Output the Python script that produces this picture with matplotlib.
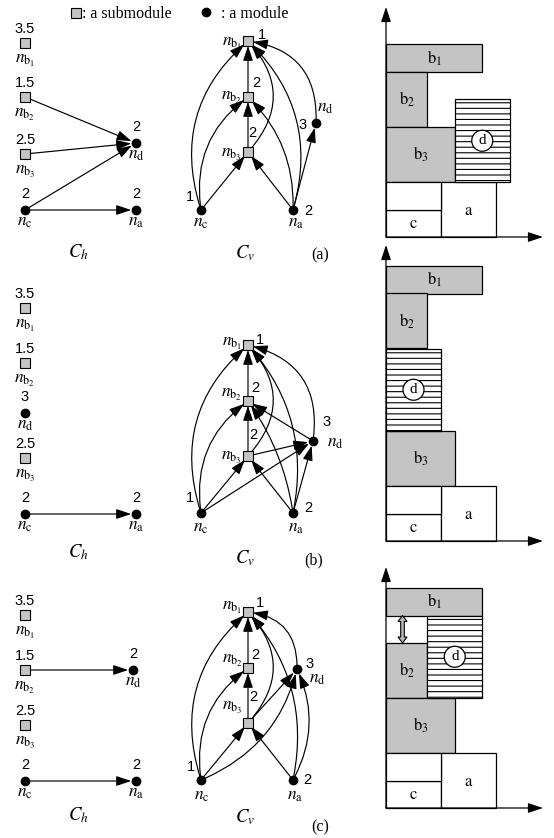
import matplotlib
matplotlib.use('Agg')
import matplotlib.pyplot as plt
from matplotlib.patches import FancyArrowPatch, Rectangle, Circle, Polygon, ArrowStyle

plt.rcParams['mathtext.fontset'] = 'stix'
plt.rcParams['hatch.linewidth'] = 0.8

SERIF = 'Liberation Serif'
SANS = 'Liberation Sans'

# ---------------- data ----------------
modules = ['b1', 'b2', 'b3', 'c', 'a', 'd']
is_submodule = [True, True, True, False, False, False]
h_weights = [3.5, 1.5, 2.5, 2, 2, 2]          # widths (C_h weights)
h_weights_b = [3.5, 1.5, 2.5, 2, 2, 3]        # C_h labels shown in panel (b)
v_weights = [1, 2, 2, 1, 2, 3]                # heights (C_v weights)

ch_edges = {
    'a': [('b2', 'd'), ('b3', 'd'), ('c', 'd'), ('c', 'a')],
    'b': [('c', 'a')],
    'c': [('b2', 'd'), ('c', 'a')],
}
cv_edges = {
    'a': [('c', 'b1'), ('c', 'b2'), ('c', 'b3'), ('a', 'b3'), ('a', 'b2'), ('a', 'b1'),
          ('a', 'd'), ('d', 'b1'), ('b2', 'b1'), ('b3', 'b2'), ('b3', 'b1')],
    'b': [('c', 'b1'), ('c', 'b2'), ('c', 'b3'), ('c', 'd'), ('a', 'b3'), ('a', 'b2'),
          ('a', 'b1'), ('a', 'd'), ('d', 'b2'), ('d', 'b1'), ('b3', 'd'), ('b2', 'b1'),
          ('b3', 'b2'), ('b3', 'b1')],
    'c': [('c', 'b1'), ('c', 'b2'), ('c', 'b3'), ('c', 'd'), ('a', 'b3'), ('a', 'b1'),
          ('a', 'd'), ('b3', 'd'), ('b3', 'b1'), ('d', 'b1'), ('b2', 'b1'), ('b3', 'b2')],
}

# floorplan placement (in weight units), order as `modules`
fp_x = {'a': [0, 0, 0, 0, 2, 2.5], 'b': [0, 0, 0, 0, 2, 0], 'c': [0, 0, 0, 0, 2, 1.5]}
fp_y = {'a': [6, 4, 2, 0, 0, 2], 'b': [9, 7, 2, 0, 0, 4], 'c': [7, 4, 2, 0, 0, 4]}

panels = ['a', 'b', 'c']

# ---------------- layout (pixels) ----------------
ch_pos = {
    'a': {'b1': (25, 43), 'b2': (25, 97), 'b3': (25, 154), 'c': (25, 210), 'd': (136, 143), 'a': (136, 210)},
    'b': {'b1': (25, 308), 'b2': (25, 363), 'd': (25, 413), 'b3': (25, 458), 'c': (25, 514), 'a': (136, 514)},
    'c': {'b1': (25, 615), 'b2': (25, 670), 'd': (133, 670), 'b3': (25, 725), 'c': (25, 781), 'a': (136, 781)},
}
cv_pos = {
    'a': {'b1': (248, 41), 'b2': (248, 97), 'b3': (248, 152), 'c': (201, 210), 'a': (293, 210), 'd': (316, 123)},
    'b': {'b1': (248, 345), 'b2': (248, 401), 'b3': (248, 456), 'c': (201, 513), 'a': (293, 513), 'd': (313, 441)},
    'c': {'b1': (248, 612), 'b2': (248, 668), 'b3': (248, 723), 'c': (201, 780), 'a': (293, 780), 'd': (297, 669)},
}
cv_rad = {
    'a': {('c', 'b1'): -0.33, ('c', 'b2'): -0.3, ('a', 'b2'): 0.22, ('a', 'b1'): 0.3,
          ('d', 'b1'): 0.45, ('b3', 'b1'): 0.45},
    'b': {('c', 'b1'): -0.33, ('c', 'b2'): -0.3, ('a', 'b2'): 0.12, ('a', 'b1'): 0.25,
          ('d', 'b1'): 0.45, ('b3', 'b1'): 0.45},
    'c': {('c', 'b1'): -0.33, ('c', 'b2'): -0.3, ('c', 'd'): 0.25, ('a', 'b1'): 0.25,
          ('a', 'd'): 0.25, ('d', 'b1'): 0.45, ('b3', 'b1'): 0.45},
}
# C_v weight-number positions (offset from node)
cv_num_off = {
    'a': {'b1': (14, -6), 'b2': (8, -14), 'b3': (4, -19), 'c': (-11, -13), 'a': (15, 1), 'd': (-13, 2)},
    'b': {'b1': (12, -5), 'b2': (7, -13), 'b3': (5, -21), 'c': (-11, -15), 'a': (15, -5), 'd': (14, -19)},
    'c': {'b1': (12, -9), 'b2': (7, -13), 'b3': (5, -26), 'c': (-10, -13), 'a': (14, 0), 'd': (13, -5)},
}
# C_v node-name positions: (x, baseline, ha)
cv_lab = {
    'a': {'b1': (242, 46, 'right'), 'b2': (242, 100, 'right'), 'b3': (242, 157, 'right'),
          'c': (201, 227, 'center'), 'a': (296, 227, 'center'), 'd': (325, 112, 'center')},
    'b': {'b1': (242, 346, 'right'), 'b2': (242, 397, 'right'), 'b3': (242, 460, 'right'),
          'c': (201, 532, 'center'), 'a': (296, 532, 'center'), 'd': (335, 447, 'center')},
    'c': {'b1': (242, 610, 'right'), 'b2': (243, 663, 'right'), 'b3': (243, 710, 'right'),
          'c': (202, 800, 'center'), 'a': (295, 800, 'center'), 'd': (317, 683, 'center')},
}
ch_title_y = {'a': 252, 'b': 552, 'c': 815}
cv_title_y = {'a': 253, 'b': 558, 'c': 817}
tag_pos = {'a': (320, 255), 'b': (314, 560), 'c': (320, 827)}

fp_origin = {'a': (386, 237), 'b': (386, 541), 'c': (386, 808)}
fp_axis_top = {'a': 7, 'b': 245, 'c': 567}
fp_axis_right = 543
U = 27.5

GRAY = '#c4c4c4'
NAME_FS = 12.5

fig = plt.figure(figsize=(5.54, 8.38), dpi=100)
ax = fig.add_axes([0, 0, 1, 1])
ax.set_xlim(0, 554)
ax.set_ylim(838, 0)
ax.axis('off')

HEAD = ArrowStyle('-|>', head_length=0.9, head_width=0.3)


def arrow(p, q, rad=0.0, sA=3.0, sB=3.5, lw=0.85):
    ax.add_patch(FancyArrowPatch(p, q, arrowstyle=HEAD, mutation_scale=10,
                                 connectionstyle=f'arc3,rad={rad}', shrinkA=sA, shrinkB=sB,
                                 lw=lw, color='black', zorder=2))


def node(p, sub):
    if sub:
        ax.plot(p[0], p[1], marker='s', ms=7.2, mfc=GRAY, mec='black', mew=0.8, zorder=4)
    else:
        ax.plot(p[0], p[1], marker='o', ms=6, mfc='black', mec='black', zorder=4)


def name(m):
    if m.startswith('b'):
        return r'$n_{\mathrm{b}_%s}$' % m[1]
    return r'$n_{\mathrm{%s}}$' % m


# legend
node((76, 13), True)
ax.text(82, 18, ': a submodule', family=SERIF, fontsize=11.5, ha='left', va='baseline')
node((206, 12), False)
ax.text(221, 18, ': a module', family=SERIF, fontsize=11.5, ha='left', va='baseline')

for pn in panels:
    hw = h_weights_b if pn == 'b' else h_weights
    # ---- C_h ----
    pos = ch_pos[pn]
    for s, t in ch_edges[pn]:
        arrow(pos[s], pos[t])
    for m, sub, w in zip(modules, is_submodule, hw):
        p = pos[m]
        node(p, sub)
        ax.text(p[0], p[1] - (7 if sub else 9), f'{w:g}', family=SANS, fontsize=10.5,
                ha='center', va='bottom')
        ax.text(p[0], p[1] + (20 if sub else 16), name(m), fontsize=NAME_FS, ha='center', va='baseline')
    ax.text(78, ch_title_y[pn], r'$C_h$', fontsize=13.5, ha='center', va='center')

    # ---- C_v ----
    pos = cv_pos[pn]
    for s, t in cv_edges[pn]:
        arrow(pos[s], pos[t], rad=cv_rad[pn].get((s, t), 0.0))
    for m, sub, w in zip(modules, is_submodule, v_weights):
        p = pos[m]
        node(p, sub)
        dx, dy = cv_num_off[pn][m]
        ax.text(p[0] + dx, p[1] + dy, f'{w:g}', family=SANS, fontsize=10.5, ha='center', va='center')
        lx, ly, ha = cv_lab[pn][m]
        ax.text(lx, ly, name(m), fontsize=NAME_FS, ha=ha, va='baseline')
    ax.text(245, cv_title_y[pn], r'$C_v$', fontsize=13.5, ha='center', va='center')
    ax.text(tag_pos[pn][0], tag_pos[pn][1], f'({pn})', family=SERIF, fontsize=11.5,
            ha='center', va='center')

    # ---- floorplan ----
    ox, oy = fp_origin[pn]
    geo = {}
    for m, sub, w, h, x, y in zip(modules, is_submodule, h_weights, v_weights, fp_x[pn], fp_y[pn]):
        geo[m] = (x, y, w, h)
        px, py = ox + x * U, oy - y * U
        if m == 'd':
            ax.add_patch(Rectangle((px, py), w * U, -h * U, fc='white', ec='black', lw=0.9,
                                   hatch='---', zorder=1))
            cx, cy = px + w * U / 2, py - h * U / 2
            ax.add_patch(Circle((cx, cy), 10.5, fc='white', ec='black', lw=0.9, zorder=3))
            ax.text(cx, cy, 'd', family=SERIF, fontsize=11, ha='center', va='center', zorder=4)
        else:
            ax.add_patch(Rectangle((px, py), w * U, -h * U, fc=GRAY if sub else 'white',
                                   ec='black', lw=0.9, zorder=1))
            lab = r'$\mathrm{b}_%s$' % m[1] if sub else r'$\mathrm{%s}$' % m
            ax.text(px + w * U / 2, py - h * U / 2, lab, fontsize=12, ha='center', va='center', zorder=4)
    # slack box above c (up to the top of a)
    xc, yc, wc, hc = geo['c']
    ha_top = geo['a'][1] + geo['a'][3]
    ax.add_patch(Rectangle((ox + xc * U, oy - (yc + hc) * U), wc * U, -(ha_top - yc - hc) * U,
                           fc='white', ec='black', lw=0.9, zorder=1))
    # axes
    arrow((ox, oy), (ox, fp_axis_top[pn]), sA=0, sB=0, lw=0.9)
    arrow((ox, oy), (fp_axis_right, oy), sA=0, sB=0, lw=0.9)

    if pn == 'c':
        # double arrow in the gap between b2 and b1
        y0 = oy - (geo['b2'][1] + geo['b2'][3]) * U
        y1 = oy - geo['b1'][1] * U
        cx = ox + 0.6 * U
        hl, hwid, bw = 6, 4.5, 1.8
        pts = [(cx, y1), (cx + hwid, y1 + hl), (cx + bw, y1 + hl), (cx + bw, y0 - hl),
               (cx + hwid, y0 - hl), (cx, y0), (cx - hwid, y0 - hl), (cx - bw, y0 - hl),
               (cx - bw, y1 + hl), (cx - hwid, y1 + hl)]
        ax.add_patch(Polygon(pts, closed=True, fc='#b8b8b8', ec='black', lw=0.8, zorder=3))

fig.savefig('out.png', dpi=100)
